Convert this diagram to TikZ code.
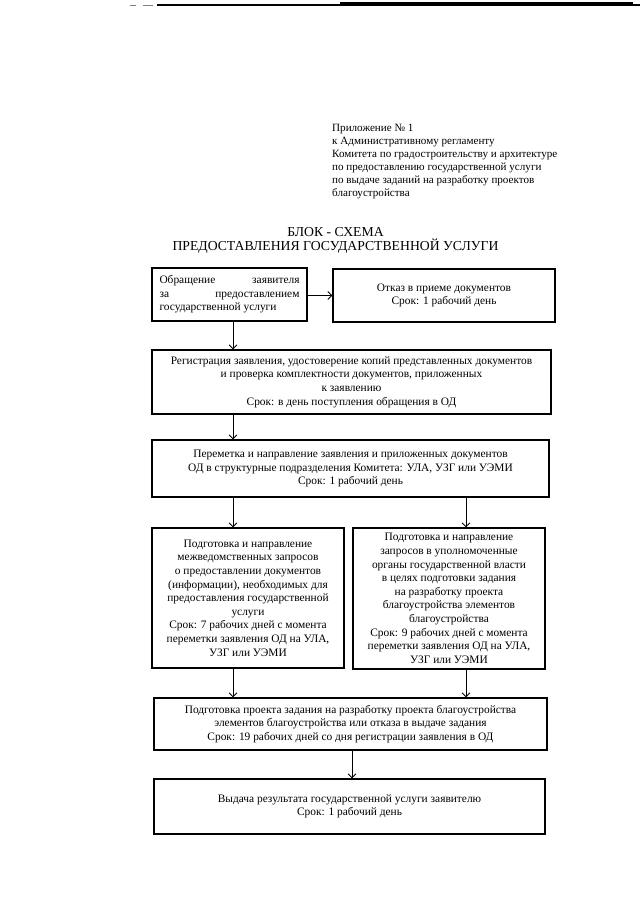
\documentclass[tikz,border=0pt]{standalone}
\usepackage{fontspec}
\setmainfont{Liberation Serif}
\usetikzlibrary{arrows.meta}
\tikzset{
  blok/.style={draw, line width=1.1pt, align=center, inner sep=2pt,
    font=\fontsize{11.4}{13.6}\selectfont},
  strelka/.style={line width=0.9pt, -{Straight Barb[length=4pt,width=8pt]}}
}
\begin{document}
\begin{tikzpicture}[x=1pt,y=-1pt]
  \useasboundingbox (0,0) rectangle (640,905);
  \draw[line width=1pt, gray] (130,5) -- (136,5) (143,5) -- (153,5);
  \draw[line width=1.2pt] (157,5) -- (640,5);
  \draw[line width=3pt] (340,3.5) -- (633,3.5);

  \node[anchor=north west, inner sep=0pt, align=left,
    font=\fontsize{11.1}{13}\selectfont] (pril) at (332,124)
    {Приложение № 1\\к Административному регламенту\\Комитета по градостроительству и архитектуре\\по предоставлению государственной услуги\\по выдаче заданий на разработку проектов\\благоустройства};
  \node[align=center, font=\fontsize{13.7}{14.5}\selectfont] (zag) at (335.5,240.5)
    {БЛОК - СХЕМА\\ПРЕДОСТАВЛЕНИЯ ГОСУДАРСТВЕННОЙ УСЛУГИ};

  \node[blok, align=left, inner xsep=7.5pt, minimum width=155pt, minimum height=53pt] (obr) at (229.5,294.5)
    {\makebox[140pt][s]{Обращение заявителя}\\\makebox[140pt][s]{за предоставлением}\\государственной услуги};
  \node[blok, minimum width=222pt, minimum height=53pt] (otkaz) at (444,295.5)
    {Отказ в приеме документов\\Срок: 1 рабочий день};
  \node[blok, minimum width=399pt, minimum height=64pt] (reg) at (351.5,382)
    {Регистрация заявления, удостоверение копий представленных документов\\и проверка комплектности документов, приложенных\\к заявлению\\Срок: в день поступления обращения в ОД};
  \node[blok, minimum width=397pt, minimum height=57pt] (perem) at (350.5,468.5)
    {Переметка и направление заявления и приложенных документов\\ОД в структурные подразделения Комитета: УЛА, УЗГ или УЭМИ\\Срок: 1 рабочий день};
  \node[blok, minimum width=192pt, minimum height=140pt] (mezh) at (248,598)
    {Подготовка и направление\\межведомственных запросов\\о предоставлении документов\\(информации), необходимых для\\предоставления государственной\\услуги\\Срок: 7 рабочих дней с момента\\переметки заявления ОД на УЛА,\\УЗГ или УЭМИ};
  \node[blok, minimum width=192pt, minimum height=141pt] (upol) at (449,598.5)
    {Подготовка и направление\\запросов в уполномоченные\\органы государственной власти\\в целях подготовки задания\\на разработку проекта\\благоустройства элементов\\благоустройства\\Срок: 9 рабочих дней с момента\\переметки заявления ОД на УЛА,\\УЗГ или УЭМИ};
  \node[blok, minimum width=393pt, minimum height=52pt] (proekt) at (350.5,724)
    {Подготовка проекта задания на разработку проекта благоустройства\\элементов благоустройства или отказа в выдаче задания\\Срок: 19 рабочих дней со дня регистрации заявления в ОД};
  \node[blok, minimum width=391pt, minimum height=55pt] (vyd) at (349.5,806.5)
    {Выдача результата государственной услуги заявителю\\Срок: 1 рабочий день};

  \draw[strelka] (obr.east |- otkaz) -- (otkaz.west);
  \draw[strelka] ([xshift=3.5pt]obr.south) -- ([xshift=3.5pt]obr.south |- reg.north);
  \draw[strelka] ([xshift=3.5pt]obr.south |- reg.south) -- ([xshift=3.5pt]obr.south |- perem.north);
  \draw[strelka] ([xshift=-15pt]mezh.north |- perem.south) -- ([xshift=-15pt]mezh.north);
  \draw[strelka] ([xshift=17pt]upol.north |- perem.south) -- ([xshift=17pt]upol.north);
  \draw[strelka] ([xshift=-15pt]mezh.south) -- ([xshift=-15pt]mezh.south |- proekt.north);
  \draw[strelka] ([xshift=17pt]upol.south) -- ([xshift=17pt]upol.south |- proekt.north);
  \draw[strelka] ([xshift=1.5pt]proekt.south) -- ([xshift=1.5pt]proekt.south |- vyd.north);
\end{tikzpicture}
\end{document}
